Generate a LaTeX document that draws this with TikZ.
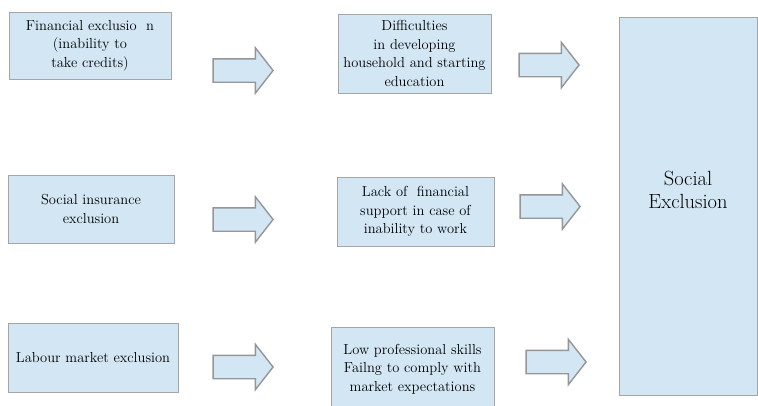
\documentclass[tikz,border=0pt]{standalone}
\usepackage{tikz}
\usetikzlibrary{shapes.arrows}
\definecolor{boxblue}{RGB}{210,230,244}
\definecolor{boxgray}{RGB}{165,165,165}
\definecolor{arrgray}{RGB}{150,150,150}
\tikzset{
  cause/.style={draw=boxgray, fill=boxblue, line width=0.9pt, inner sep=0pt,
    align=center, font=\fontsize{14.5}{18.5}\selectfont},
  fatarrow/.style={shape=single arrow, draw=arrgray, fill=boxblue, line width=1.4pt,
    inner xsep=0pt, inner ysep=11pt, minimum height=60, minimum width=44,
    single arrow head extend=11pt, single arrow tip angle=104},
}

\begin{document}
\begin{tikzpicture}[x=1pt, y=-1pt]
  \useasboundingbox (0,0) rectangle (758,405);
  \node [cause, minimum width=162, minimum height=67] at (90,45.5) (fin) {Financial exclusio~~n\\(inability to\\take credits)};
  \node [cause, minimum width=166, minimum height=68] at (91,209) (ins) {Social insurance\\exclusion};
  \node [cause, minimum width=170, minimum height=69] at (93,357.5) (lab) {Labour market exclusion};

  \node [cause, minimum width=153, minimum height=79] at (414.5,53.5) (hh) {Difficulties\\in developing\\household and starting\\education};
  \node [cause, minimum width=157, minimum height=69] at (415.5,211.5) (sup) {Lack of~~financial\\support in case of\\inability to work};
  \node [cause, minimum width=163, minimum height=84] at (412.5,369) (skl) {Low professional skills\\Failng to comply with\\market expectations};

  \node [cause, minimum width=138, minimum height=378, font=\fontsize{20.5}{23}\selectfont] at (688,206) (soc) {Social\\Exclusion\rule[-33pt]{0pt}{0pt}};

  \node [fatarrow] at (238.5,70.5) (a1) {};
  \node [fatarrow] at (544.5,65) (a2) {};
  \node [fatarrow] at (238.5,219.5) (a3) {};
  \node [fatarrow] at (545.5,206.5) (a4) {};
  \node [fatarrow] at (238.5,367) (a5) {};
  \node [fatarrow] at (551.5,362) (a6) {};
\end{tikzpicture}
\end{document}
